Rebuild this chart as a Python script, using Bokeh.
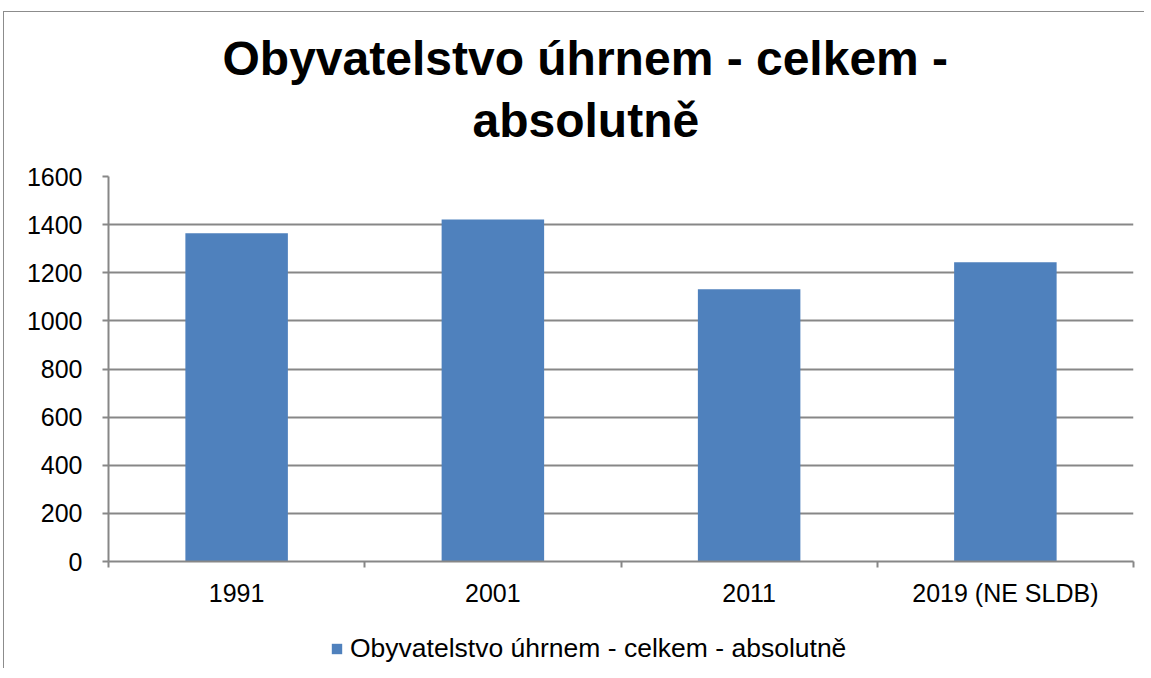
from bokeh.plotting import figure
from bokeh.models import Range1d, FixedTicker, Title, Legend, LegendItem, ColumnDataSource
from bokeh.layouts import column
from bokeh.embed import file_html
from bokeh.resources import INLINE
import numpy as np

# data
categories = ["1991", "2001", "2011", "2019 (NE SLDB)"]
values = [1364, 1421, 1131, 1244]
y_ticks = [0, 200, 400, 600, 800, 1000, 1200, 1400, 1600]
series_name = "Obyvatelstvo úhrnem - celkem - absolutně"
title_lines = ["Obyvatelstvo úhrnem - celkem -", "absolutně"]

FONT = "Liberation Sans"
GRAY = "#878787"
BAR = "#4F81BD"
BORDER = "1px solid #8c8c8c"

n = len(categories)
centers = list(np.arange(n) + 0.5)
bounds = list(np.arange(n + 1).astype(float))

p = figure(frame_width=1024, frame_height=384, output_backend="svg", toolbar_location=None,
           x_range=Range1d(0, n), y_range=Range1d(0, 1600),
           min_border_left=104, min_border_right=12, min_border_top=164, min_border_bottom=0)
p.margin = (11, 0, 0, 3)
p.styles = {"border-top": BORDER, "border-left": BORDER}
p.outline_line_color = None
p.background_fill_color = "white"
p.border_fill_color = "white"

src = ColumnDataSource(dict(x=centers, top=values, cat=categories))
r = p.vbar(x="x", top="top", width=0.4, bottom=0, source=src, fill_color=BAR, line_color=None)

# x axis
p.xaxis.ticker = FixedTicker(ticks=centers, minor_ticks=bounds)
p.xaxis.major_label_overrides = {float(c): lab for c, lab in zip(centers, categories)}
p.xaxis.major_tick_out = 0
p.xaxis.major_tick_in = 0
p.xaxis.minor_tick_out = 6
p.xaxis.minor_tick_in = 0
p.xaxis.minor_tick_line_color = GRAY
p.xaxis.minor_tick_line_width = 2
p.xaxis.axis_line_color = GRAY
p.xaxis.axis_line_width = 2
p.xaxis.major_label_text_font = FONT
p.xaxis.major_label_text_font_size = "25px"
p.xaxis.major_label_text_color = "black"
p.xaxis.major_label_standoff = 11
p.xgrid.grid_line_color = None

# y axis
p.yaxis.ticker = FixedTicker(ticks=y_ticks)
p.yaxis.major_tick_out = 6
p.yaxis.major_tick_in = 0
p.yaxis.minor_tick_line_color = None
p.yaxis.major_tick_line_color = GRAY
p.yaxis.major_tick_line_width = 2
p.yaxis.axis_line_color = GRAY
p.yaxis.axis_line_width = 2
p.yaxis.major_label_text_font = FONT
p.yaxis.major_label_text_font_size = "25px"
p.yaxis.major_label_text_color = "black"
p.yaxis.major_label_standoff = 20
p.ygrid.ticker = FixedTicker(ticks=y_ticks)
p.ygrid.grid_line_color = GRAY
p.ygrid.grid_line_width = 2

# title (two lines, lower line first so it sits nearest the plot)
for txt, so, off in zip(reversed(title_lines), [59, -45], [364, 114]):
    p.add_layout(Title(text=txt, align="left", offset=off, standoff=so,
                       text_font=FONT, text_font_style="bold", text_font_size="48px",
                       text_color="black"), "above")

# legend strip below the chart (its own bars lie far outside its view; only the key shows)
q = figure(width=1140, height=60, output_backend="svg", toolbar_location=None,
           x_axis_location=None, y_axis_location=None, min_border=0,
           x_range=Range1d(n + 10, n + 11), y_range=Range1d(5000, 6000))
q.margin = (0, 0, 0, 3)
q.styles = {"border-left": BORDER}
q.outline_line_color = None
q.xgrid.grid_line_color = None
q.ygrid.grid_line_color = None
q.background_fill_color = "white"
q.border_fill_color = "white"
lr = q.vbar(x="x", top="top", width=0.4, bottom=0, source=src, fill_color=BAR, line_color=None)
legend = Legend(items=[LegendItem(label=series_name, renderers=[lr])],
                location=(222, 4), orientation="horizontal",
                glyph_width=13, glyph_height=13, label_standoff=7,
                label_text_font=FONT, label_text_font_size="26.5px", label_text_color="black",
                padding=0, margin=0, border_line_color=None, background_fill_alpha=0)
q.add_layout(legend, "center")

open("out.html", "w").write(file_html(column(p, q), INLINE))
